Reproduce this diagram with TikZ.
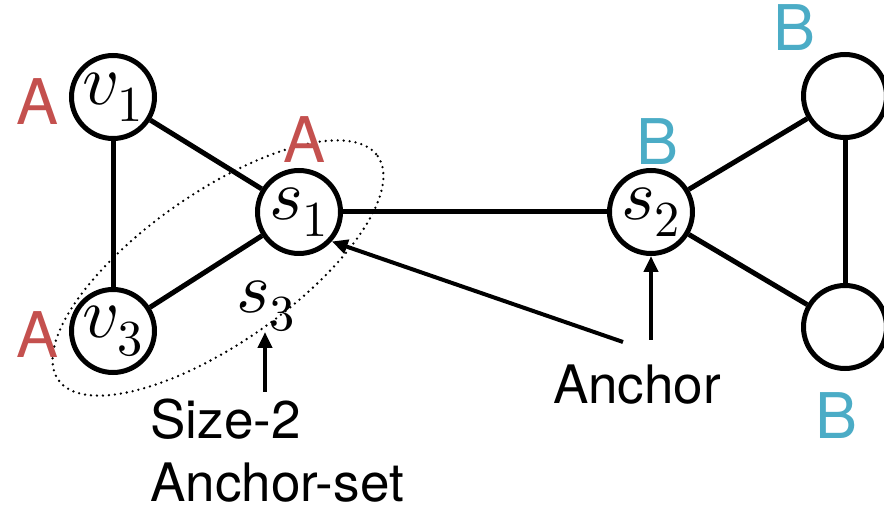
\documentclass[tikz,border=0pt]{standalone}
\usepackage{fontspec}
\setmainfont{TeX Gyre Heros}
\usepackage{unicode-math}
\usetikzlibrary{arrows.meta}
\definecolor{labA}{RGB}{196,80,78}
\definecolor{labB}{RGB}{75,172,198}
\begin{document}
\begin{tikzpicture}[x=0.5pt,y=-0.5pt,
  vert/.style={circle,draw,line width=2.5pt,minimum size=41.5pt,inner sep=0pt,
    font=\fontsize{36}{40}\selectfont},
  edge/.style={line width=2.5pt},
  lblA/.style={text=labA,inner sep=0pt,font=\fontsize{31.5}{36}\selectfont},
  lblB/.style={text=labB,inner sep=0pt,font=\fontsize{31.5}{36}\selectfont},
  txt/.style={inner sep=0pt,font=\fontsize{26.5}{32}\selectfont},
  arr/.style={line width=2pt,-{Triangle[length=8pt,width=7pt]}}]
\useasboundingbox (0,0) rectangle (884,507);
% vertices
\node[vert] (v1) at (113,97) {$v_1$};
\node[vert] (v3) at (113,331) {$v_3$};
\node[vert] (s1) at (299,212) {$s_1$};
\node[vert] (s2) at (651,212) {$s_2$};
\node[vert] (t1) at (845,96) {};
\node[vert] (t2) at (845,327) {};
% edges
\draw[edge] (v1) -- (s1);
\draw[edge] (v1) -- (v3);
\draw[edge] (v3) -- (s1);
\draw[edge] (s1) -- (s2);
\draw[edge] (s2) -- (t1);
\draw[edge] (s2) -- (t2);
\draw[edge] (t1) -- (t2);
% anchor-set ellipse
\draw[line width=1.3pt,line cap=round,dash pattern=on 0pt off 3pt,rotate around={35:(218,268)}] (218,268) ellipse [x radius=195, y radius=75];
% labels
\node[lblA] (la1) at (38,102) {A};
\node[lblA] (la3) at (38,335) {A};
\node[lblA] (las) at (305,140) {A};
\node[lblB] (lbs) at (658,142) {B};
\node[lblB] (lbt) at (795,28) {B};
\node[lblB] (lbb) at (837,416) {B};
% s3
\node[inner sep=0pt,font=\fontsize{36}{40}\selectfont] (s3) at (266,306) {$s_3$};
% texts
\node[txt,anchor=base] (anc) at (637,404) {Anchor};
\node[txt,anchor=base west] (sz) at (150,439) {Size-2};
\node[txt,anchor=base west] (as) at (150,502) {Anchor-set};
% arrows
\coordinate (c1) at (623,342);
\coordinate (c2) at (651,340);
\coordinate (c3) at (265,392);
\coordinate (c3t) at (265,332);
\draw[arr] (c1) -- (s1.-42);
\draw[arr] (c2) -- (s2.south);
\draw[arr] (c3) -- (c3t);
\end{tikzpicture}
\end{document}
